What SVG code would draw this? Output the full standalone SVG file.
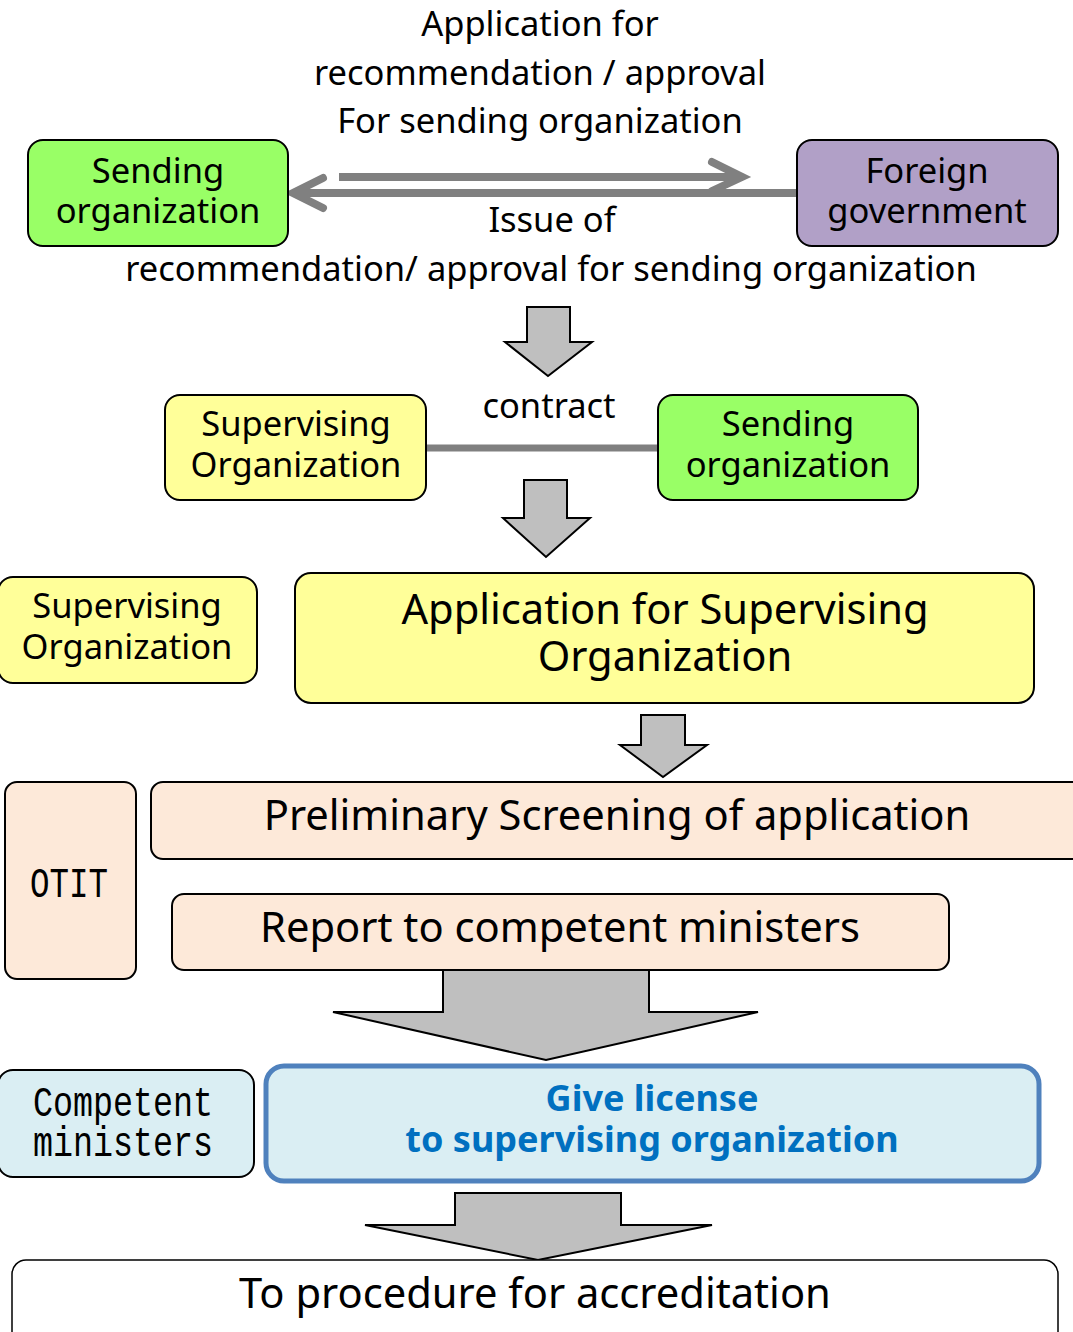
<svg xmlns="http://www.w3.org/2000/svg" width="1073" height="1332" viewBox="0 0 1073 1332">
<style>
text{font-family:"Noto Sans","DejaVu Sans",sans-serif;fill:#000;text-anchor:middle}
.box{stroke:#000;stroke-width:2}
.green{fill:#99ff66}
.purple{fill:#b1a0c7}
.yellow{fill:#ffff99}
.peach{fill:#fde9d9}
.blue{fill:#daeef3}
.t32{font-size:34.5px}
.t42{font-size:41.7px}
.mono{font-family:"Liberation Mono","DejaVu Sans Mono",monospace;font-size:42px}
.lic{font-size:36px;font-weight:bold;fill:#0070c0}
.blk{fill:#bfbfbf;stroke:#000;stroke-width:2;stroke-linejoin:miter}
.gline{stroke:#808080;stroke-width:8;fill:none}
</style>
<rect width="1073" height="1332" fill="#fff"/>
<g id="connectors">
<path class="gline" d="M339 177H740"/>
<path class="gline" d="M712 162L742 177L712 191" stroke-linecap="round"/>
<path class="gline" d="M797 193H295"/>
<path class="gline" d="M323 178L293 193L323 208" stroke-linecap="round"/>
<path d="M426 448H658" stroke="#808080" stroke-width="7"/>
<polygon class="blk" points="527,307 570,307 570,342 592,342 548,376 505,342 527,342"/>
<polygon class="blk" points="524,480 567,480 567,518 590,518 546,557 503,518 524,518"/>
<polygon class="blk" points="641,715 685,715 685,745 707,745 663,777 620,745 641,745"/>
<polygon class="blk" points="443,964 649,964 649,1012 758,1012 546,1060 333,1012 443,1012"/>
<polygon class="blk" points="455,1193 621,1193 621,1225 712,1225 538,1260 365,1225 455,1225"/>
</g>
<g id="title-label">
<text class="t32" x="540" y="36">Application for</text>
<text class="t32" x="540" y="85">recommendation / approval</text>
<text class="t32" x="540" y="133">For sending organization</text>
</g>
<g id="issue-label">
<text class="t32" x="552" y="232">Issue of</text>
<text class="t32" x="551" y="281">recommendation/ approval for sending organization</text>
</g>
<g id="sending-org-1">
<rect class="box green" x="28" y="140" width="260" height="106" rx="15"/>
<text class="t32" x="158" y="183">Sending</text>
<text class="t32" x="158" y="223">organization</text>
</g>
<g id="foreign-gov">
<rect class="box purple" x="797" y="140" width="261" height="106" rx="15"/>
<text class="t32" x="927" y="183">Foreign</text>
<text class="t32" x="927" y="223">government</text>
</g>
<g id="supervising-org-1">
<rect class="box yellow" x="165" y="395" width="261" height="105" rx="15"/>
<text class="t32" x="296" y="436">Supervising</text>
<text class="t32" x="296" y="477">Organization</text>
</g>
<g id="contract-label">
<text class="t32" x="549" y="418">contract</text>
</g>
<g id="sending-org-2">
<rect class="box green" x="658" y="395" width="260" height="105" rx="15"/>
<text class="t32" x="788" y="436">Sending</text>
<text class="t32" x="788" y="477">organization</text>
</g>
<g id="supervising-org-2">
<rect class="box yellow" x="-2" y="577" width="259" height="106" rx="15"/>
<text class="t32" x="127" y="618">Supervising</text>
<text class="t32" x="127" y="659">Organization</text>
</g>
<g id="application">
<rect class="box yellow" x="295" y="573" width="739" height="130" rx="16"/>
<text class="t42" x="665" y="624">Application for Supervising</text>
<text class="t42" x="665" y="671">Organization</text>
</g>
<g id="otit">
<rect class="box peach" x="5" y="782" width="131" height="197" rx="12"/>
<text class="mono" x="69" y="897" textLength="78" lengthAdjust="spacingAndGlyphs">OTIT</text>
</g>
<g id="preliminary">
<rect class="box peach" x="151" y="782" width="940" height="77" rx="12"/>
<text class="t42" x="617" y="830">Preliminary Screening of application</text>
</g>
<g id="report">
<rect class="box peach" x="172" y="894" width="777" height="76" rx="12"/>
<text class="t42" x="560" y="942">Report to competent ministers</text>
</g>
<g id="competent">
<rect class="box blue" x="-2" y="1070" width="256" height="107" rx="15"/>
<text class="mono" x="123" y="1116" textLength="180" lengthAdjust="spacingAndGlyphs">Competent</text>
<text class="mono" x="123" y="1156" textLength="180" lengthAdjust="spacingAndGlyphs">ministers</text>
</g>
<g id="give-license">
<rect x="266" y="1066" width="773" height="115" rx="18" fill="#daeef3" stroke="#4f81bd" stroke-width="5"/>
<text class="lic" x="652" y="1111">Give license</text>
<text class="lic" x="652" y="1152">to supervising organization</text>
</g>
<g id="procedure">
<rect x="12" y="1260" width="1046" height="90" rx="14" fill="#fff" stroke="#000" stroke-width="1.5"/>
<text class="t42" x="535" y="1308">To procedure for accreditation</text>
</g>
</svg>
